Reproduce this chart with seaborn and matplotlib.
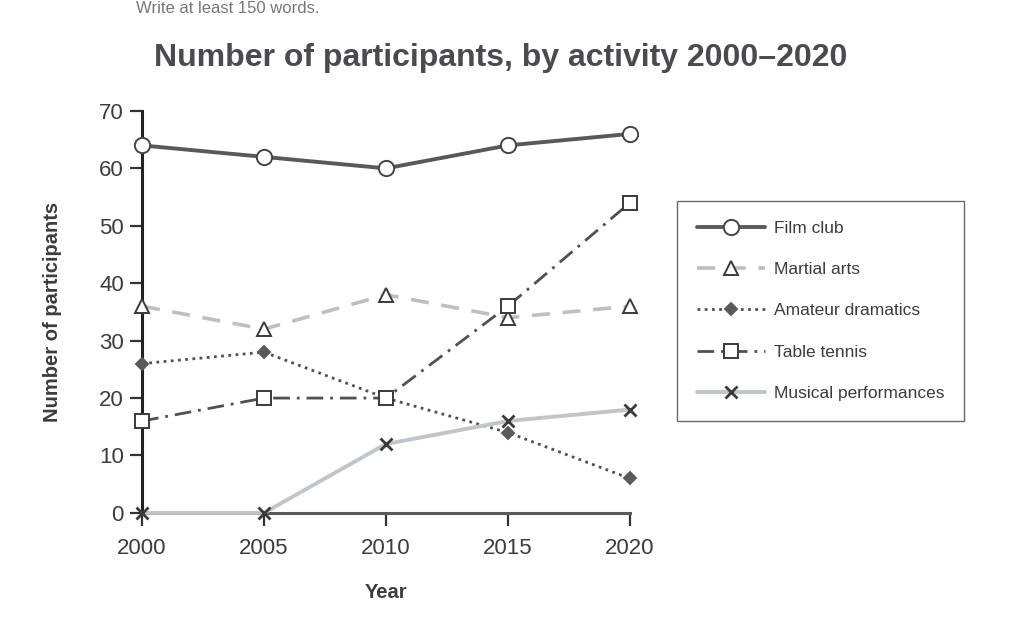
import matplotlib
matplotlib.use("Agg")
import matplotlib.pyplot as plt
import seaborn as sns
import pandas as pd

years = [2000, 2005, 2010, 2015, 2020]
film_club = [64, 62, 60, 64, 66]
martial_arts = [36, 32, 38, 34, 36]
amateur_dramatics = [26, 28, 20, 14, 6]
table_tennis = [16, 20, 20, 36, 54]
musical_performances = [0, 0, 12, 16, 18]

labels = ["Film club", "Martial arts", "Amateur dramatics",
          "Table tennis", "Musical performances"]

sns.set_theme(style="white")
plt.rcParams['font.family'] = ['Liberation Sans', 'DejaVu Sans']

text_col = '#3c3c40'

# per-series look: (values, line colour, linestyle, lw, marker, ms, face, edge)
styles = [
    (film_club, '#59595c', '-', 2.8, 'o', 11, 'white', '#444446'),
    (martial_arts, '#bdbfc1', (0, (5, 3.5)), 2.6, '^', 10.5, 'white', '#3a3a3c'),
    (amateur_dramatics, '#505052', (0, (1, 1.6)), 2.0, 'D', 6.5, '#5a5a5c', '#5a5a5c'),
    (table_tennis, '#505052', (0, (6, 2.5, 1, 2.5)), 2.0, 's', 10.5, 'white', '#3a3a3c'),
    (musical_performances, '#bfc6cb', '-', 2.8, 'x', 8.5, '#3a3a3c', '#3a3a3c'),
]

fig = plt.figure(figsize=(10.11, 6.34), dpi=100)
ax = fig.add_axes([0.1405, 0.191, 0.4825, 0.634])

for i, (vals, col, ls, lw, mk, ms, fc, ec) in enumerate(styles):
    df = pd.DataFrame({'Year': years, 'n': vals})
    sns.lineplot(data=df, x='Year', y='n', ax=ax, color=col, linestyle=ls,
                 linewidth=lw, marker=mk, markersize=ms, markerfacecolor=fc,
                 markeredgecolor=ec, markeredgewidth=1.4 if mk != 'x' else 2.0,
                 label=labels[i], clip_on=False, zorder=5 + i)

ax.set_xlim(2000, 2020)
ax.set_ylim(0, 70)
ax.set_xticks(years)
ax.set_yticks(range(0, 71, 10))
ax.tick_params(axis='both', labelsize=16, labelcolor=text_col, color='#333333',
               length=9, width=1.6, direction='out', pad=4,
               bottom=True, left=True)
ax.tick_params(axis='x', pad=9)
for s in ['top', 'right']:
    ax.spines[s].set_visible(False)
ax.spines['left'].set_color('#222224')
ax.spines['left'].set_linewidth(2.2)
ax.spines['bottom'].set_color('#5a5a5c')
ax.spines['bottom'].set_linewidth(2.2)
ax.spines['left'].set_zorder(3)
ax.spines['bottom'].set_zorder(3)

ax.set_xlabel('Year', fontsize=14.5, fontweight='bold', color=text_col, labelpad=17)
ax.set_ylabel('Number of participants', fontsize=14.5, fontweight='bold',
              color=text_col, labelpad=27)

fig.text(0.495, 0.909, 'Number of participants, by activity 2000\u20132020',
         ha='center', va='center', fontsize=23, fontweight='bold', color='#4a4a50')
fig.text(0.135, 0.999, 'Write at least 150 words.', ha='left', va='top',
         fontsize=12, color='#777777')

leg = ax.legend(loc='upper left', bbox_to_anchor=(0.670, 0.683),
                bbox_transform=fig.transFigure, fontsize=12.5, frameon=True,
                fancybox=False, edgecolor='#444444', borderpad=1.15,
                labelspacing=1.5, handlelength=3.9, handletextpad=0.5,
                borderaxespad=0)
leg.get_frame().set_linewidth(1.0)
for t in leg.get_texts():
    t.set_color(text_col)

fig.savefig('out.png', dpi=100, facecolor='white')
